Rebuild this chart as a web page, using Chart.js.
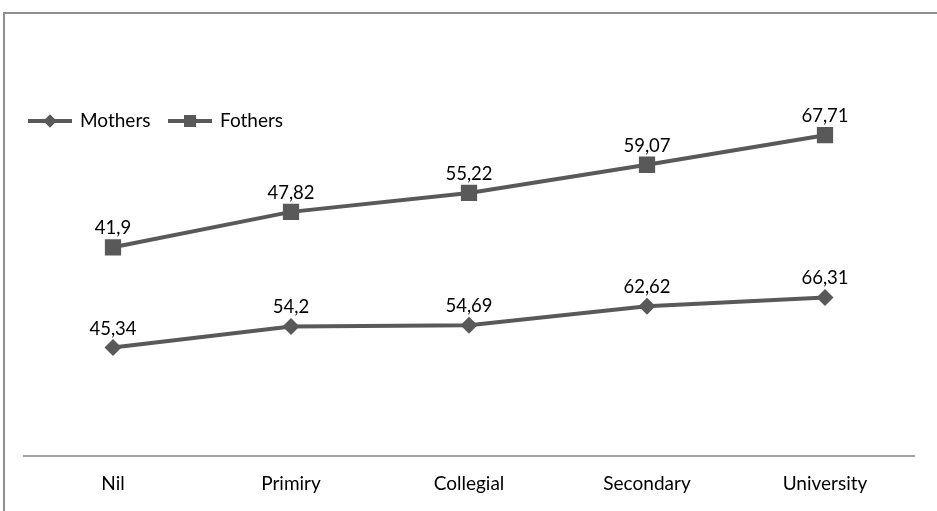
<!DOCTYPE html>
<html>
<head>
<meta charset="utf-8">
<script src="https://cdn.jsdelivr.net/npm/chart.js@4/dist/chart.umd.min.js"></script>
<style>
  html, body { margin: 0; padding: 0; background: #fff; }
  #wrap { width: 937px; height: 511px; position: relative; }
</style>
</head>
<body>
<div id="wrap"><canvas id="c" width="937" height="511"></canvas></div>
<script>
// Education level of parents
const categories = ['Nil', 'Primiry', 'Collegial', 'Secondary', 'University'];
const mothers = [45.34, 54.2, 54.69, 62.62, 66.31];
const fathers = [41.9, 47.82, 55.22, 59.07, 67.71];
const seriesNames = ['Mothers', 'Fothers'];

const INK = '#595959';
const TEXT = '#000';
const FONT = 'Lato, "Open Sans", sans-serif';

const fmt = v => String(v).replace('.', ',');

// Outer frame of the figure
const framePlugin = {
  id: 'frame',
  beforeDraw(chart) {
    const ctx = chart.ctx;
    ctx.save();
    ctx.strokeStyle = '#8f8f8f';
    ctx.lineWidth = 2;
    ctx.beginPath();
    ctx.moveTo(4, 511);
    ctx.lineTo(4, 13);
    ctx.lineTo(937, 13);
    ctx.stroke();
    ctx.restore();
  }
};

// Value labels above each marker
const valueLabels = {
  id: 'valueLabels',
  afterDatasetsDraw(chart) {
    const ctx = chart.ctx;
    ctx.save();
    ctx.font = '18.5px ' + FONT;
    ctx.fillStyle = TEXT;
    ctx.textAlign = 'center';
    ctx.textBaseline = 'middle';
    chart.data.datasets.forEach((ds, i) => {
      chart.getDatasetMeta(i).data.forEach((pt, j) => {
        ctx.fillText(fmt(ds.data[j]), pt.x, pt.y - 19);
      });
    });
    ctx.restore();
  }
};

// Legend row drawn inside the plot, left side
const inlineLegend = {
  id: 'inlineLegend',
  afterDraw(chart) {
    const ctx = chart.ctx;
    const y = 121;
    const items = [
      { x: 28, style: 'rectRot', r: 6.5 },
      { x: 168, style: 'rect', r: 8.5 }
    ];
    ctx.save();
    items.forEach((it, i) => {
      ctx.strokeStyle = INK;
      ctx.lineWidth = 4;
      ctx.beginPath();
      ctx.moveTo(it.x, y);
      ctx.lineTo(it.x + 44, y);
      ctx.stroke();
      ctx.fillStyle = INK;
      Chart.helpers.drawPoint(ctx, { pointStyle: it.style, radius: it.r, borderWidth: 0 }, it.x + 22, y);
      ctx.fill();
      ctx.fillStyle = TEXT;
      ctx.font = '19px ' + FONT;
      ctx.textAlign = 'left';
      ctx.textBaseline = 'middle';
      ctx.fillText(seriesNames[i], it.x + 52, y);
    });
    ctx.restore();
  }
};

new Chart(document.getElementById('c'), {
  type: 'line',
  data: {
    labels: categories,
    datasets: [
      {
        label: seriesNames[0],
        data: mothers,
        borderColor: INK,
        backgroundColor: INK,
        borderWidth: 4,
        pointStyle: 'rectRot',
        pointRadius: 8.5,
        pointBorderWidth: 0,
        fill: false,
        tension: 0
      },
      {
        label: seriesNames[1],
        data: fathers,
        borderColor: INK,
        backgroundColor: INK,
        borderWidth: 4,
        pointStyle: 'rect',
        pointRadius: 11.5,
        pointBorderWidth: 0,
        fill: false,
        tension: 0
      }
    ]
  },
  options: {
    responsive: false,
    animation: false,
    layout: { padding: { left: 24, right: 23, top: 73, bottom: 0 } },
    plugins: {
      legend: { display: false },
      tooltip: { enabled: false }
    },
    scales: {
      x: {
        offset: true,
        grid: { display: false, drawTicks: false },
        border: { display: true, color: '#a3a3a3', width: 2 },
        ticks: { color: TEXT, font: { family: FONT, size: 19 }, padding: 16 }
      },
      y: {
        display: false,
        stacked: true,
        min: 0,
        max: 160
      }
    }
  },
  plugins: [framePlugin, valueLabels, inlineLegend]
});
</script>
</body>
</html>
